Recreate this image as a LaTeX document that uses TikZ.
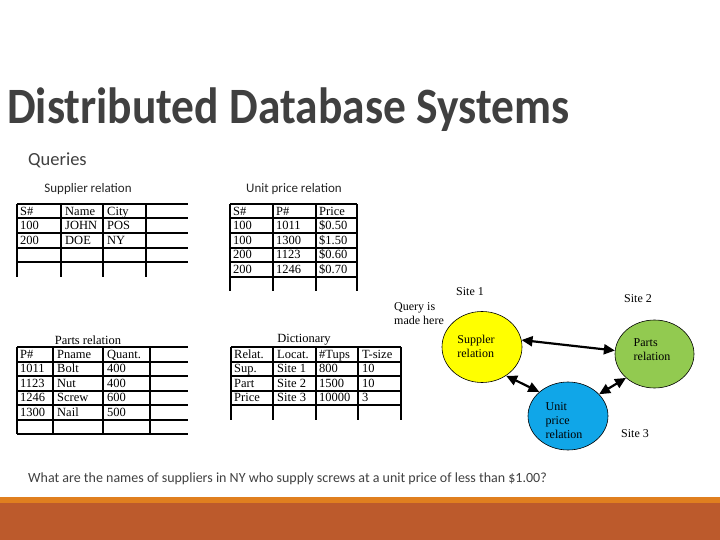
\documentclass[tikz,border=0pt]{standalone}
\usepackage{fontspec}
\setmainfont{Liberation Serif}
\newfontfamily\slidefont{Carlito}
\usetikzlibrary{arrows.meta,shapes.geometric}

\definecolor{slidegray}{HTML}{404040}
\definecolor{bandorange}{HTML}{E07F1F}
\definecolor{bandrust}{HTML}{BC5A2C}
\definecolor{siteyellow}{HTML}{FFFF00}
\definecolor{sitegreen}{HTML}{92CA50}
\definecolor{siteblue}{HTML}{10A6E8}

\tikzset{
  grid/.style={line width=2pt},
  cell/.style={anchor=west, inner sep=0pt, text height=8.5pt, text depth=2.5pt, font=\fontsize{12.5}{13}\selectfont},
  caption/.style={inner sep=0pt, font=\fontsize{12.5}{13}\selectfont},
  slidetext/.style={anchor=west, inner sep=0pt, text=slidegray},
  relnode/.style={draw, ellipse, line width=0.6pt, inner sep=0pt},
  sitelabel/.style={inner sep=0pt, align=left, font=\fontsize{12}{14}\selectfont},
  link/.style={{Triangle[length=11pt,width=10pt]}-{Triangle[length=11pt,width=10pt]}, line width=2.2pt}
}

\begin{document}
\begin{tikzpicture}[x=1pt,y=-1pt]
  \useasboundingbox (0,0) rectangle (720,540);
  \fill[white] (0,0) rectangle (720,540);

  % title and footer band
  \node[slidetext, font=\slidefont\bfseries\fontsize{45.5}{50}\selectfont] (title) at (7,110) {\scalebox{1}[1.12]{Distributed Database Systems}};
  \node[slidetext, font=\slidefont\fontsize{18.5}{20}\selectfont] (queries) at (28,160) {Queries};
  \node[slidetext, font=\slidefont\fontsize{14}{16}\selectfont] (question) at (28,479) {What are the names of suppliers in NY who supply screws at a unit price of less than \$1.00?};
  \fill[bandorange] (0,497) rectangle (720,503);
  \fill[bandrust] (0,503) rectangle (720,540);

  % supplier relation
  \node[font=\slidefont\fontsize{13}{15}\selectfont, text=black!85] (supcap) at (88,189) {Supplier relation};
  \foreach \y in {204,218.5,233,247.5,262} \draw[grid] (17,\y) -- (188,\y);
  \foreach \x in {17,61,103,146} \draw[grid] (\x,204) -- (\x,276.5);
  \foreach \a/\b/\c [count=\i from 0] in {S\#/Name/City,100/JOHN/POS,200/DOE/NY}{
    \node[cell] (sup-\i-a) at (20,{212+14.5*\i}) {\a};
    \node[cell] (sup-\i-b) at (65,{212+14.5*\i}) {\b};
    \node[cell] (sup-\i-c) at (107,{212+14.5*\i}) {\c};
  }

  % unit price relation
  \node[font=\slidefont\fontsize{13}{15}\selectfont, text=black!85] (pricecap) at (294,189) {Unit price relation};
  \foreach \y in {204,218.5,233,247.5,262,276.5} \draw[grid] (230,\y) -- (357,\y);
  \foreach \x in {230,273,316,357} \draw[grid] (\x,204) -- (\x,291);
  \foreach \a/\b/\c [count=\i from 0] in {S\#/P\#/Price,100/1011/\$0.50,100/1300/\$1.50,200/1123/\$0.60,200/1246/\$0.70}{
    \node[cell] (price-\i-a) at (233,{212+14.5*\i}) {\a};
    \node[cell] (price-\i-b) at (276,{212+14.5*\i}) {\b};
    \node[cell] (price-\i-c) at (319,{212+14.5*\i}) {\c};
  }

  % parts relation
  \node[caption] (partcap) at (88,340) {Parts relation};
  \foreach \y in {347,361.5,376,390.5,405,419.5,434} \draw[grid] (17,\y) -- (188,\y);
  \foreach \x in {17,53,103,150} \draw[grid] (\x,347) -- (\x,434);
  \foreach \a/\b/\c [count=\i from 0] in {P\#/Pname/Quant.,1011/Bolt/400,1123/Nut/400,1246/Screw/600,1300/Nail/500}{
    \node[cell] (part-\i-a) at (20,{355+14.5*\i}) {\a};
    \node[cell] (part-\i-b) at (57,{355+14.5*\i}) {\b};
    \node[cell] (part-\i-c) at (107,{355+14.5*\i}) {\c};
  }

  % dictionary
  \node[caption] (dictcap) at (304,340) {Dictionary};
  \foreach \y in {347,361.5,376,390.5,405} \draw[grid] (231,\y) -- (401,\y);
  \foreach \x in {231,273,316,358,401} \draw[grid] (\x,347) -- (\x,419.5);
  \foreach \a/\b/\c/\d [count=\i from 0] in {Relat./Locat./\#Tups/T-size,Sup./Site 1/800/10,Part/Site 2/1500/10,Price/Site 3/10000/3}{
    \node[cell] (dict-\i-a) at (234,{355+14.5*\i}) {\a};
    \node[cell] (dict-\i-b) at (277,{355+14.5*\i}) {\b};
    \node[cell] (dict-\i-c) at (319,{355+14.5*\i}) {\c};
    \node[cell] (dict-\i-d) at (362,{355+14.5*\i}) {\d};
  }

  % sites
  \node[relnode, fill=siteyellow, minimum width=80pt, minimum height=71pt] (sup) at (482,347) {};
  \node[relnode, fill=sitegreen, minimum width=79pt, minimum height=68pt] (parts) at (654.5,354) {};
  \node[relnode, fill=siteblue, minimum width=80pt, minimum height=68pt] (price) at (568,416) {};
  \node[sitelabel] (supT) at (476,346) {Suppler\\relation};
  \node[sitelabel] (partsT) at (652,350) {Parts\\relation};
  \node[sitelabel] (priceT) at (564,421) {Unit\\price\\relation};
  \node[sitelabel] (site1) at (470,292) {Site 1};
  \node[sitelabel] (site2) at (638,299) {Site 2};
  \node[sitelabel] (site3) at (635,434) {Site 3};
  \node[sitelabel] (query) at (419,314) {Query is\\made here};

  \draw[link] (sup.10) -- (parts.175);
  \draw[link] (sup.-50) -- (price.140);
  \draw[link] (parts.-140) -- (price.35);
\end{tikzpicture}
\end{document}
